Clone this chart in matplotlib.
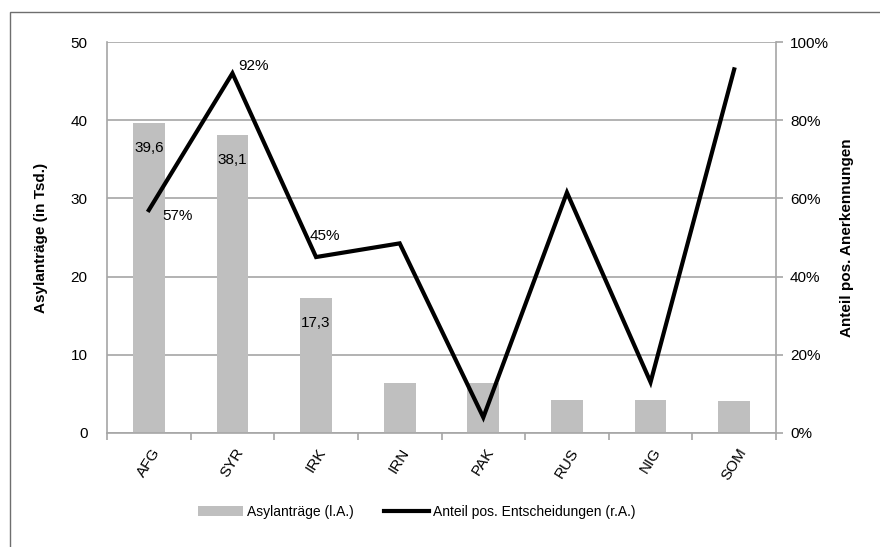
import numpy as np
import matplotlib.pyplot as plt
from matplotlib.patches import Rectangle
from matplotlib.ticker import PercentFormatter

plt.rcParams['font.family'] = ['Liberation Sans', 'DejaVu Sans']

laender = ["AFG", "SYR", "IRK", "IRN", "PAK", "RUS", "NIG", "SOM"]
antraege = [39.6, 38.1, 17.3, 6.4, 6.4, 4.2, 4.2, 4.1]          # in Tsd.
anteil_pos = [57, 92, 45, 48.5, 4, 61.5, 13, 93]                 # in %

W, H = 880, 547
fs = 11
fig = plt.figure(figsize=(W / 100, H / 100), dpi=100)
# Rahmen um die Grafik
fig.patches.append(Rectangle((10 / W, -0.05), 1.0, 1 - 12 / H + 0.05, transform=fig.transFigure,
                             fill=False, edgecolor="#6e6e6e", linewidth=1.0))

ax = fig.add_axes([107 / W, 1 - 433 / H, (776 - 107) / W, (433 - 42) / H])
ax2 = ax.twinx()

x = np.arange(len(laender))
grau = "#a6a6a6"

ax.bar(x, antraege, width=0.38, color="#bfbfbf", zorder=2, label="Asylanträge (l.A.)")
ax.set_xlim(-0.5, len(laender) - 0.5)
ax.set_ylim(0, 50)
ax.set_yticks(range(0, 51, 10))
ax.grid(axis="y", color=grau, linewidth=1.2, zorder=0)
ax.set_axisbelow(True)

ax2.plot(x, anteil_pos, color="black", linewidth=3, solid_joinstyle="miter",
         label="Anteil pos. Entscheidungen (r.A.)", zorder=3)
ax2.set_ylim(0, 100)
ax2.set_yticks(range(0, 101, 20))
ax2.yaxis.set_major_formatter(PercentFormatter(decimals=0))

for a in (ax, ax2):
    for s in a.spines.values():
        s.set_visible(False)
ax.spines["left"].set_visible(True)
ax.spines["bottom"].set_visible(True)
ax2.spines["right"].set_visible(True)
for s in ("left", "bottom"):
    ax.spines[s].set_color(grau)
    ax.spines[s].set_linewidth(1.2)
ax2.spines["right"].set_color(grau)
ax2.spines["right"].set_linewidth(1.2)

# Kategorie-Striche zwischen den Ländern
ax.set_xticks(x)
ax.set_xticklabels(laender, rotation=58, ha="center", va="top", fontsize=fs)
ax.set_xticks(np.arange(-0.5, len(laender)), minor=True)
ax.tick_params(axis="x", which="major", length=0, pad=9)
ax.tick_params(axis="x", which="minor", length=5, color=grau, width=1.2)
ax.tick_params(axis="y", length=0, labelsize=fs, pad=14)
ax2.tick_params(axis="y", length=5, color=grau, width=1.2, labelsize=fs, pad=5)

ax.set_ylabel("Asylanträge (in Tsd.)", fontsize=fs, fontweight="bold", labelpad=16)
ax2.set_ylabel("Anteil pos. Anerkennungen", fontsize=fs, fontweight="bold", labelpad=8)

# Datenbeschriftungen
for i in range(3):
    ax.annotate(f"{antraege[i]:.1f}".replace(".", ","), (x[i], antraege[i]),
                xytext=(0, -18), textcoords="offset points", ha="center", va="center",
                fontsize=fs, zorder=4)
ax2.annotate(f"{anteil_pos[0]:.0f}%", (x[0], anteil_pos[0]), xytext=(21, -4),
             textcoords="offset points", ha="center", va="center", fontsize=fs)
ax2.annotate(f"{anteil_pos[1]:.0f}%", (x[1], anteil_pos[1]), xytext=(15, 5),
             textcoords="offset points", ha="center", va="center", fontsize=fs)
ax2.annotate(f"{anteil_pos[2]:.0f}%", (x[2], anteil_pos[2]), xytext=(6, 15),
             textcoords="offset points", ha="center", va="center", fontsize=fs)

h1, l1 = ax.get_legend_handles_labels()
h2, l2 = ax2.get_legend_handles_labels()
fig.legend(h1 + h2, l1 + l2, loc="center", bbox_to_anchor=(417 / W, 1 - 512 / H), ncol=2,
           frameon=False, fontsize=10, handlelength=3.2, handletextpad=0.3, columnspacing=2.2)

fig.savefig("out.png", dpi=100)
